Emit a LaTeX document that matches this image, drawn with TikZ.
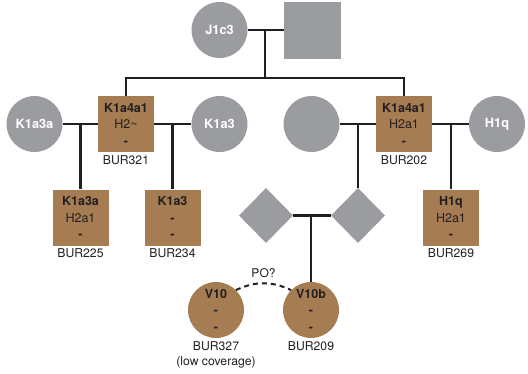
\documentclass[tikz,border=0pt]{standalone}
\usepackage{fontspec}
\setmainfont{TeX Gyre Heros}
\usetikzlibrary{positioning,shapes.geometric}

\definecolor{pedgray}{HTML}{9B9CA0}
\definecolor{pedbrown}{HTML}{A67C52}
\definecolor{pedline}{HTML}{231F20}

\begin{document}
\begin{tikzpicture}[
    x=1pt, y=-1pt,
    female/.style={circle, fill=pedgray, minimum size=56pt, inner sep=0pt,
        text=white, font=\fontsize{12.8}{14}\selectfont\bfseries},
    male/.style={rectangle, fill=pedgray, minimum size=57pt, inner sep=0pt},
    unknown/.style={diamond, fill=pedgray, minimum width=54pt, minimum height=55pt, inner sep=0pt},
    samplesq/.style={rectangle, fill=pedbrown, minimum size=56pt, inner sep=0pt,
        align=center, text=pedline, font=\fontsize{12.5}{16.5}\selectfont},
    samplecirc/.style={circle, fill=pedbrown, minimum size=56pt, inner sep=0pt,
        align=center, text=pedline, font=\fontsize{12.5}{16.5}\selectfont},
    sampleid/.style={inner sep=1pt, align=center, text=pedline,
        font=\fontsize{12.2}{15.5}\selectfont},
    link/.style={draw=pedline, line width=2.4pt},
    relation/.style={draw=pedline, line width=2pt, dash pattern=on 5pt off 4pt}
]

\useasboundingbox (0,0) rectangle (528,373);

% -------------------------------------------------
% Generation I
% -------------------------------------------------

\node[female] (j1c3)    at (219.5,30) {J1c3};
\node[male]   (fatherA) at (312.5,30) {};

% -------------------------------------------------
% Generation II
% -------------------------------------------------

\node[female]   (k1a3a)  at (34.5,124)  {K1a3a};
\node[samplesq] (bur321) at (126,124)   {\textbf{K1a4a1}\\H2\textasciitilde\\\textbf{-}};
\node[female]   (k1a3)   at (219.5,124) {K1a3};
\node[female]   (wifeB)  at (311.5,124) {};
\node[samplesq] (bur202) at (404,124)   {\textbf{K1a4a1}\\H2a1\\\textbf{-}};
\node[female]   (h1q)    at (497,124)   {H1q};

% -------------------------------------------------
% Generation III
% -------------------------------------------------

\node[samplesq] (bur225) at (80.5,217.5)  {\textbf{K1a3a}\\H2a1\\\textbf{-}};
\node[samplesq] (bur234) at (172.5,217.5) {\textbf{K1a3}\\\textbf{-}\\\textbf{-}};
\node[unknown]  (unkL)   at (266,215.5)   {};
\node[unknown]  (unkR)   at (358,215.5)   {};
\node[samplesq] (bur269) at (451,217.5)   {\textbf{H1q}\\H2a1\\\textbf{-}};

% -------------------------------------------------
% Generation IV
% -------------------------------------------------

\node[samplecirc] (bur327) at (216,310) {\textbf{V10}\\\textbf{-}\\\textbf{-}};
\node[samplecirc] (bur209) at (311,310) {\textbf{V10b}\\\textbf{-}\\\textbf{-}};

% -------------------------------------------------
% Sample IDs
% -------------------------------------------------

\node[sampleid, below=2pt of bur321] (id321) {BUR321};
\node[sampleid, below=2pt of bur202] (id202) {BUR202};
\node[sampleid, below=2pt of bur225] (id225) {BUR225};
\node[sampleid, below=2pt of bur234] (id234) {BUR234};
\node[sampleid, below=2pt of bur269] (id269) {BUR269};
\node[sampleid, below=2pt of bur327] (id327) {BUR327\\(low coverage)};
\node[sampleid, below=2pt of bur209] (id209) {BUR209};

% -------------------------------------------------
% Marriages and descent lines
% -------------------------------------------------

\coordinate (mA)   at (265,30);
\coordinate (sibA) at (265,78);
\draw[link] (j1c3) -- (fatherA);
\draw[link] (mA) -- (sibA);
\draw[link] (bur321) |- (sibA) -| (bur202);

\coordinate (mB) at (80.5,124);
\draw[link] (k1a3a) -- (bur321);
\draw[link] (mB) -- (bur225);

\coordinate (mC) at (172.5,124);
\draw[link] (bur321) -- (k1a3);
\draw[link] (mC) -- (bur234);

\coordinate (mD) at (358,124);
\draw[link] (wifeB) -- (bur202);
\draw[link] (mD) -- (unkR);

\coordinate (mE) at (451,124);
\draw[link] (bur202) -- (h1q);
\draw[link] (mE) -- (bur269);

\coordinate (mF) at (311,215.5);
\draw[link] (unkL) -- (unkR);
\draw[link] (mF) -- (bur209);

% possible parent-offspring relation
\draw[relation] (bur327.45) to[bend left=25]
    node[midway, above=1pt, text=pedline, font=\fontsize{12}{14}\selectfont] (po) {PO?}
    (bur209.135);

\end{tikzpicture}
\end{document}
